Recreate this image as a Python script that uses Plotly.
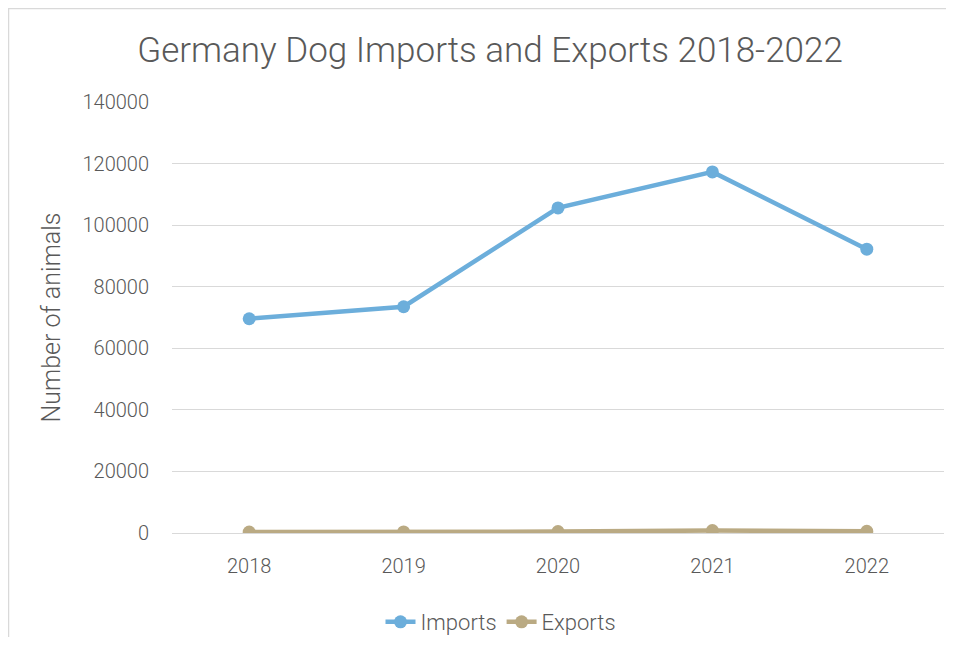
import plotly.graph_objects as go

years = ["2018", "2019", "2020", "2021", "2022"]
imports = [69600, 73500, 105600, 117300, 92200]
exports = [320, 350, 450, 800, 550]
y_ticks = [0, 20000, 40000, 60000, 80000, 100000, 120000, 140000]

# page body has an 8px margin, so figure coords = screen coords - 8
OFF = 8
W, H = 954 - 2 * OFF, 645 - 2 * OFF
L, R, T, B = 172 - OFF, 944 - OFF, 102 - OFF, 533 - OFF
pw, ph = R - L, B - T

def px_x(x):
    return (x - OFF - L) / pw

def px_y(y):
    return (B - (y - OFF)) / ph

text_col = "#595959"
font_fam = "Roboto, 'DejaVu Sans', sans-serif"

fig = go.Figure()
fig.add_trace(go.Scatter(
    x=years, y=imports, name="Imports", mode="lines+markers",
    line=dict(color="#6CAEDB", width=4.5),
    marker=dict(size=13, color="#6CAEDB"),
))
fig.add_trace(go.Scatter(
    x=years, y=exports, name="Exports", mode="lines+markers",
    line=dict(color="#BAAA83", width=4.5),
    marker=dict(size=13, color="#BAAA83"),
))

fig.update_layout(
    width=W, height=H,
    margin=dict(l=L, r=W - R, t=T, b=H - B, autoexpand=False),
    paper_bgcolor="white", plot_bgcolor="white",
    font=dict(family=font_fam, color=text_col, size=20, weight=300),
    title=dict(text="Germany Dog Imports and Exports 2018-2022",
               x=(490 - OFF) / W, xref="container", xanchor="center",
               y=1 - (50 - OFF) / H, yref="container", yanchor="middle",
               font=dict(size=35, color=text_col, family=font_fam, weight=300)),
    xaxis=dict(type="category", range=[-0.5, 4.5], showgrid=False, zeroline=False,
               showline=False, ticks="", automargin=False,
               tickfont=dict(size=20, color=text_col, weight=300),
               ticklabelstandoff=19),
    yaxis=dict(range=[0, 140000], tickvals=y_ticks,
               ticktext=[str(v) for v in y_ticks], automargin=False,
               showgrid=True, gridcolor="#D9D9D9", gridwidth=1.3,
               zeroline=True, zerolinecolor="#D9D9D9", zerolinewidth=1.3,
               showline=False, ticks="", tickfont=dict(size=20, color=text_col, weight=300),
               ticklabelstandoff=22,
               title=dict(text="Number of animals",
                          font=dict(size=25, color=text_col, weight=300),
                          standoff=14)),
    showlegend=True,
    legend=dict(orientation="h", x=px_x(501), xanchor="center",
                y=px_y(622), yanchor="middle",
                font=dict(size=22, color=text_col, weight=300),
                tracegroupgap=0, bgcolor="rgba(0,0,0,0)"),
    shapes=[dict(type="rect", xref="paper", yref="paper",
                 x0=px_x(8.5), x1=px_x(1000), y0=px_y(700), y1=px_y(8.5),
                 line=dict(color="#D9D9D9", width=1.5), layer="below")],
)

fig.write_html("out.html")
